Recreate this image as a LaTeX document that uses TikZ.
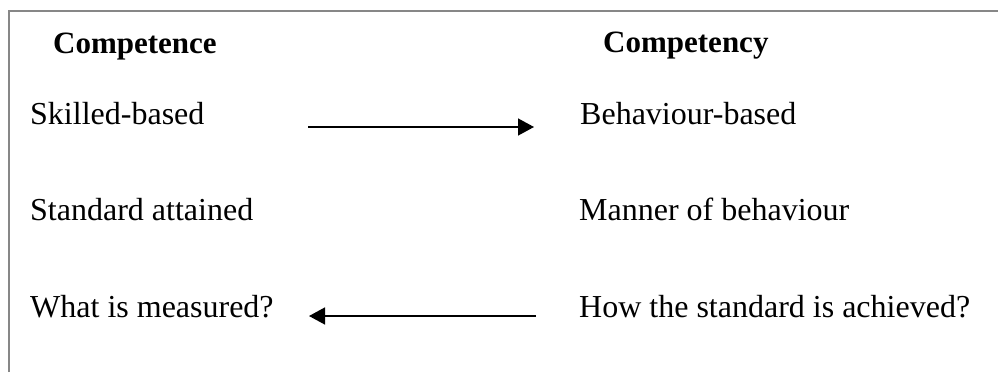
\documentclass[tikz,border=0pt]{standalone}
\usepackage{fontspec}
\setmainfont{Liberation Serif}
\usetikzlibrary{arrows.meta}
\begin{document}
\begin{tikzpicture}[x=1pt,y=-1pt,
  lbl/.style={anchor=base west,inner sep=0pt,font=\fontsize{32}{38}\selectfont},
  hdr/.style={lbl,font=\fontsize{31}{37}\selectfont\bfseries},
  conn/.style={line width=1.5pt,-{Triangle[length=16pt,width=17pt]}},
  frame/.style={draw=black!47,line width=2pt}]
\useasboundingbox (0,0) rectangle (998,372);
\draw[frame] (9,372) -- (9,11) -- (998,11);
\node[hdr] (h1) at (53,53) {Competence};
\node[hdr] (h2) at (603,52) {Competency};
\node[lbl] (a1) at (30,124) {Skilled-based};
\node[lbl] (b1) at (580,124) {Behaviour-based};
\node[lbl] (a2) at (30,220) {Standard attained};
\node[lbl] (b2) at (579,220) {Manner of behaviour};
\node[lbl] (a3) at (30,317) {What is measured?};
\node[lbl] (b3) at (579,317) {How the standard is achieved?};
\coordinate (p1) at (308,127);
\coordinate (q1) at (534,127);
\coordinate (p2) at (536,316);
\coordinate (q2) at (309,316);
\draw[conn] (p1) -- (q1);
\draw[conn] (p2) -- (q2);
\end{tikzpicture}
\end{document}
